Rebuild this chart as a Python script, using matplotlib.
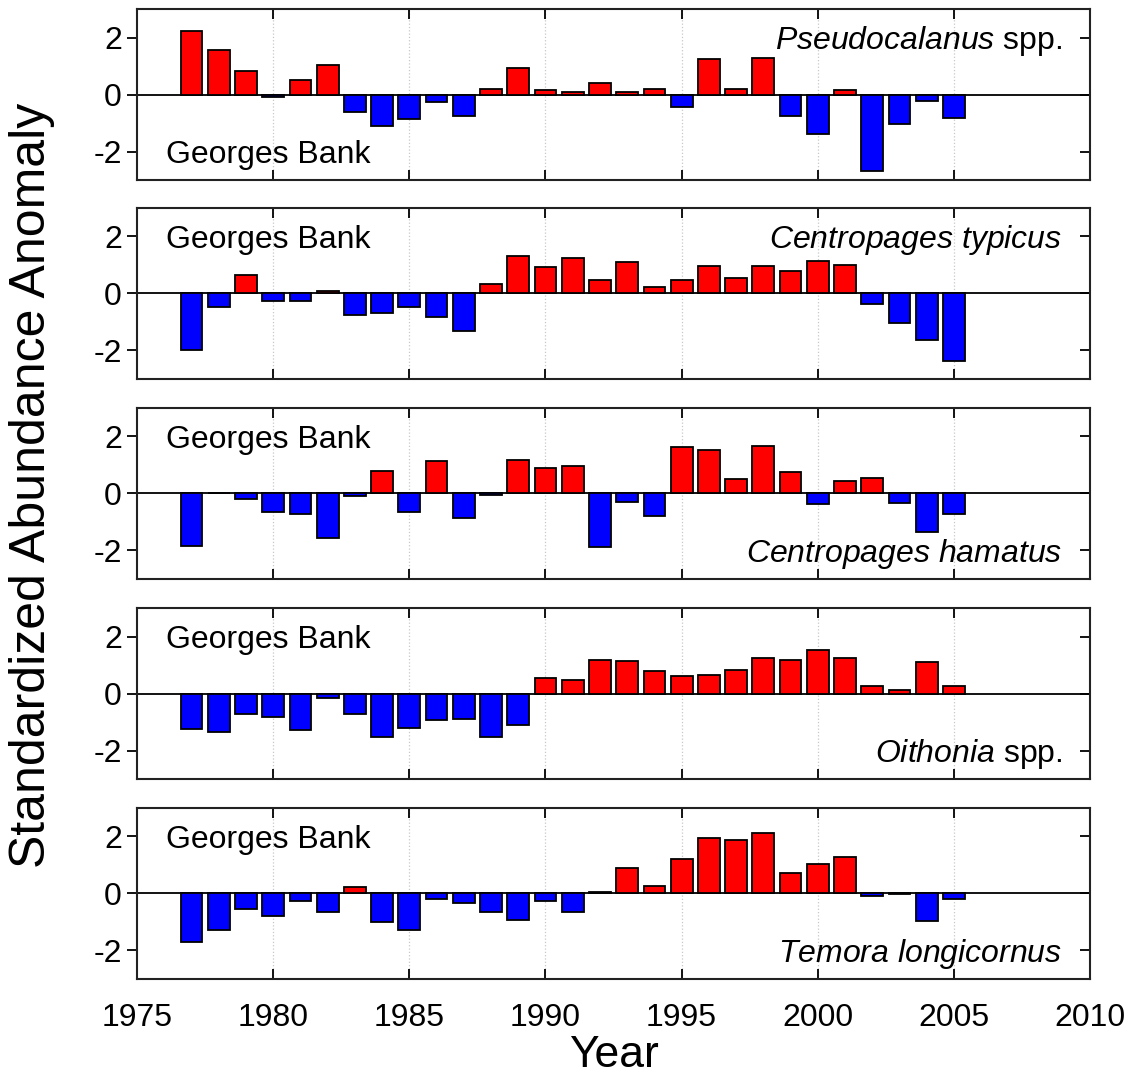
import matplotlib
matplotlib.use("Agg")
import matplotlib.pyplot as plt

# ---------------- DATA ----------------
years = list(range(1977, 2006))

pseudocalanus = [2.22, 1.58, 0.82, -0.10, 0.51, 1.04, -0.60, -1.09, -0.85, -0.26,
                 -0.75, 0.21, 0.95, 0.16, 0.10, 0.40, 0.10, 0.18, -0.44, 1.25,
                 0.20, 1.29, -0.74, -1.39, 0.16, -2.69, -1.03, -0.21, -0.81]
c_typicus = [-1.98, -0.48, 0.66, -0.26, -0.26, 0.07, -0.75, -0.69, -0.47, -0.81,
             -1.30, 0.35, 1.30, 0.94, 1.24, 0.48, 1.09, 0.23, 0.47, 0.97,
             0.54, 0.97, 0.79, 1.15, 1.00, -0.38, -1.04, -1.62, -2.36]
c_hamatus = [-1.86, 0.03, -0.18, -0.64, -0.71, -1.58, -0.09, 0.78, -0.64, 1.14,
             -0.86, -0.05, 1.19, 0.88, 0.96, -1.89, -0.30, -0.78, 1.64, 1.54,
             0.49, 1.67, 0.75, -0.38, 0.44, 0.54, -0.34, -1.35, -0.71]
oithonia = [-1.24, -1.35, -0.71, -0.84, -1.27, -0.14, -0.72, -1.52, -1.22, -0.93,
            -0.91, -1.51, -1.09, 0.56, 0.46, 1.19, 1.13, 0.79, 0.61, 0.66,
            0.84, 1.26, 1.19, 1.54, 1.26, 0.26, 0.13, 1.09, 0.25]
temora = [-1.71, -1.28, -0.56, -0.80, -0.27, -0.64, 0.24, -1.01, -1.27, -0.19,
          -0.32, -0.66, -0.94, -0.27, -0.65, 0.05, 0.88, 0.25, 1.20, 1.95,
          1.86, 2.14, 0.71, 1.02, 1.28, -0.08, -0.02, -0.98, -0.21]

species_labels = [r"$\mathit{Pseudocalanus}$ spp.",
                  r"$\mathit{Centropages\ typicus}$",
                  r"$\mathit{Centropages\ hamatus}$",
                  r"$\mathit{Oithonia}$ spp.",
                  r"$\mathit{Temora\ longicornus}$"]
region_label = "Georges Bank"
series = [pseudocalanus, c_typicus, c_hamatus, oithonia, temora]
# (region label on top?, species label on top?)
label_spots = [(False, True), (True, True), (True, False), (True, False), (True, False)]

x_ticks = [1975, 1980, 1985, 1990, 1995, 2000, 2005, 2010]
y_ticks = [-2, 0, 2]
y_ticklabels = ["-2", "0", "2"]

# ---------------- STYLE ----------------
plt.rcParams["font.family"] = ["Liberation Sans", "DejaVu Sans"]
plt.rcParams["mathtext.fontset"] = "custom"
plt.rcParams["mathtext.rm"] = "Liberation Sans"
plt.rcParams["mathtext.it"] = "Liberation Sans:italic"

fig = plt.figure(figsize=(11.4, 10.85), dpi=100)

left, width, height = 0.1202, 0.836, 0.1576
bottoms = [0.834, 0.6507, 0.4664, 0.282, 0.0977]

for i, vals in enumerate(series):
    ax = fig.add_axes([left, bottoms[i], width, height])
    colors = ["#ff0000" if v >= 0 else "#0000ff" for v in vals]
    ax.bar(years, vals, width=0.8, color=colors, edgecolor="black",
           linewidth=1.3, zorder=3)
    ax.axhline(0, color="black", lw=1.3, zorder=2)

    ax.set_xlim(1975, 2010)
    ax.set_ylim(-3, 3)
    ax.set_xticks(x_ticks)
    ax.set_yticks(y_ticks)
    ax.set_yticklabels(y_ticklabels)
    for g in x_ticks[1:-1]:
        ax.axvline(g, color="#c8c8c8", lw=0.9, ls=":", zorder=1)

    ax.tick_params(axis="x", direction="in", top=True, bottom=True, length=7,
                   width=1.3, labelsize=23, pad=17)
    ax.tick_params(axis="y", direction="out", left=True, right=False, length=7,
                   width=1.3, labelsize=23, pad=4)
    if i < len(series) - 1:
        ax.tick_params(axis="x", labelbottom=False)

    # inward ticks on the right side
    sec = ax.secondary_yaxis("right")
    sec.set_yticks(y_ticks)
    sec.tick_params(direction="in", length=7, width=1.3, labelright=False)
    sec.spines["right"].set_visible(False)

    for sp in ax.spines.values():
        sp.set_linewidth(1.5)
        sp.set_color("#222222")

    region_top, species_top = label_spots[i]
    ax.text(0.03, 1.6 if region_top else -2.4, region_label,
            transform=ax.get_yaxis_transform(),
            fontsize=23, ha="left", va="baseline", zorder=4)
    ax.text(0.971, 1.6 if species_top else -2.4, species_labels[i],
            transform=ax.get_yaxis_transform(),
            fontsize=23, ha="right", va="baseline", zorder=4)

    if i == len(series) - 1:
        ax.set_xlabel("Year", fontsize=32, labelpad=2)

fig.text(0.028, 0.553, "Standardized Abundance Anomaly", rotation=90,
         fontsize=36, ha="center", va="center")

fig.savefig("out.png", dpi=100)
